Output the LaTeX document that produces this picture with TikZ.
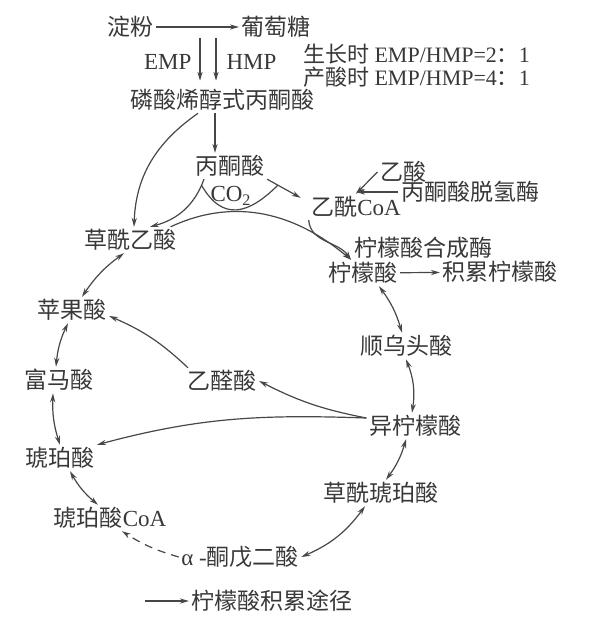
\documentclass[tikz,border=0pt]{standalone}
\usepackage{fontspec}
\setmainfont{Liberation Serif}
\newfontfamily\cjk{Noto Sans CJK SC}
\usetikzlibrary{arrows.meta}

\begin{document}
\begin{tikzpicture}[x=0.5pt,y=0.5pt,
        mt/.style={font=\cjk\fontsize{11.5}{13}\selectfont,inner sep=1pt,text=black!78},
        rt/.style={font=\cjk\fontsize{11}{12}\selectfont,inner sep=0pt,text=black!78,anchor=west},
        >={Stealth[length=4.5pt,width=2.6pt]},
        line width=0.6pt, color=black!72]
            \useasboundingbox (0,0) rectangle (594,-620);

            \draw (130,-27)  node[mt](st){淀粉};
            \draw (276,-27)  node[mt](glc){葡萄糖};
            \draw (303,-54)  node[rt](ratio1){生长时 \textrm{EMP/HMP=2}：\textrm{1}};
            \draw (303,-77)  node[rt](ratio2){产酸时 \textrm{EMP/HMP=4}：\textrm{1}};
            \draw (222,-100) node[mt](pep){磷酸烯醇式丙酮酸};
            \draw (230,-166) node[mt](pyr){丙酮酸};
            \draw (231,-196) node[mt](co2){\textrm{CO\textsubscript{2}}};
            \draw (403,-172) node[mt](aca){乙酸};
            \draw (470,-192) node[mt](pdh){丙酮酸脱氢酶};
            \draw (356,-207) node[mt](accoa){乙酰\textrm{CoA}};
            \draw (130,-240) node[mt](oaa){草酰乙酸};
            \draw (423,-248) node[mt](cs){柠檬酸合成酶};
            \draw (363,-273) node[mt](cit){柠檬酸};
            \draw (500,-272) node[mt](acc){积累柠檬酸};
            \draw (72,-310)  node[mt](mal){苹果酸};
            \draw (406,-346) node[mt](aco){顺乌头酸};
            \draw (59,-380)  node[mt](fum){富马酸};
            \draw (222,-381) node[mt](gly){乙醛酸};
            \draw (415,-426) node[mt](icit){异柠檬酸};
            \draw (60,-458)  node[mt](suc){琥珀酸};
            \draw (381,-493) node[mt](oxs){草酰琥珀酸};
            \draw (110,-518) node[mt](succoa){琥珀酸\textrm{CoA}};
            \draw (240,-557) node[mt](akg){\textrm{α -}酮戊二酸};
            \draw (272,-601) node[mt](leg){柠檬酸积累途径};

            \coordinate (emp) at (200,-38);
            \coordinate (hmp) at (216,-38);
            \coordinate (legtail) at (145,-601);

            \draw[->] (st) -- (glc);
            \draw[->,shorten >=3pt] (emp) -- node[mt,left=3pt](emplbl){\textrm{EMP}} (emp |- pep.north);
            \draw[->,shorten >=3pt] (hmp) -- node[mt,right=4pt](hmplbl){\textrm{HMP}} (hmp |- pep.north);
            \draw[->] ([xshift=-3.5pt]pep.south) -- ([xshift=-3.5pt]pep.south |- pyr.north);
            \draw[->] ([xshift=-12pt]pep.south) to[out=215,in=88] ([xshift=2pt]oaa.north);

            \draw[->] ([xshift=-13pt]pyr.south) to[out=250,in=15] coordinate[pos=0.08](co2a) ([xshift=10pt]oaa.north);
            \draw[->] (pyr.south east) -- coordinate[pos=0.32](co2b) ([xshift=-4pt,yshift=-2pt]accoa.north west);
            \draw (co2a) to[out=-60,in=-135,looseness=1.4] (co2b);
            \draw[->] (aca.west) -- (accoa.north);
            \draw[->] (pdh.west) -- (pdh.west -| accoa.north);
            \draw[->] (accoa.south west) to[out=-85,in=125] ([xshift=-6pt]cit.north);
            \draw[->] ([xshift=-4pt]oaa.north east) to[out=25,in=140] ([xshift=-6pt]cit.north);
            \draw[->] (cit) -- (acc);

            \begin{scope}[bend right=10]
                \path[<->] ([xshift=-3pt]oaa.south) edge ([xshift=5pt]mal.north);
                \path[<->] ([xshift=-2pt]mal.south) edge ([xshift=-1.5pt]fum.north);
                \path[<->] ([xshift=-3pt]fum.south) edge (suc.north);
                \path[<->] ([xshift=5pt]suc.south) edge ([xshift=-6pt]succoa.north);
                \path[->] ([xshift=-17pt]gly.north) edge ([yshift=-3pt]mal.east);
            \end{scope}

            \begin{scope}[bend left=10]
                \path[<->] ([xshift=8pt]cit.south) edge ([xshift=-2pt]aco.north);
                \path[<->] (aco.south) edge[bend left=15] ([xshift=-1.5pt]icit.north);
                \path[<->] ([xshift=-4.5pt]icit.south) edge ([xshift=2.5pt]oxs.north);
                \path[<->] ([xshift=-8pt]oxs.south) edge[bend left=15] (akg.east);
                \path[->,dashed,dash pattern=on 4pt off 3pt] (akg.west) edge[bend left=8] ([xshift=6pt]succoa.south);
                \path[->] ([yshift=4pt]icit.west) edge[bend left=8] (gly.east);
            \end{scope}

            \draw[->] ([yshift=4pt]icit.west) to[out=178,in=15] (suc.north east);
            \draw[->] (legtail) -- (leg.west);
        \end{tikzpicture}
\end{document}
